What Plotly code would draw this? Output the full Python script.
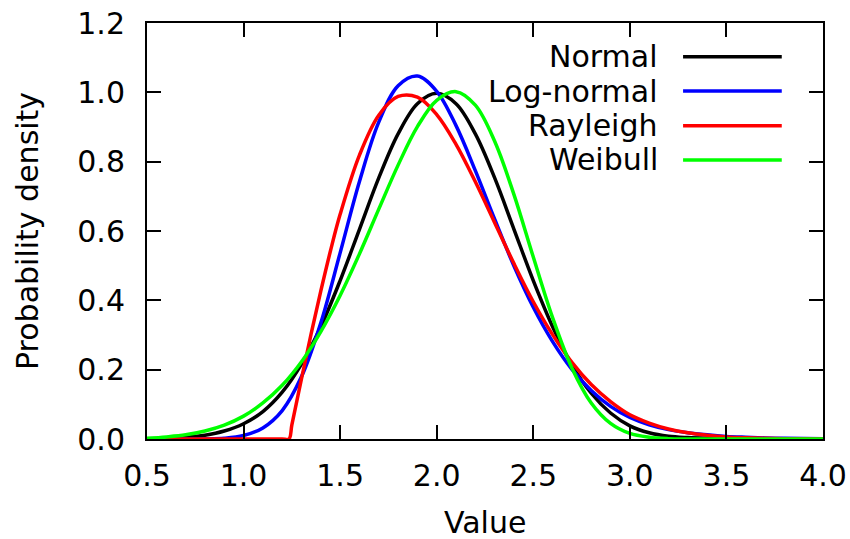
import plotly.graph_objects as go

# x grid shared by three of the series
x_grid = [0.5, 0.6, 0.7, 0.8, 0.9, 1.0, 1.1, 1.2, 1.3, 1.4, 1.5, 1.6, 1.7, 1.8,
          1.9, 2.0, 2.1, 2.2, 2.3, 2.4, 2.5, 2.6, 2.7, 2.8, 2.9, 3.0, 3.1, 3.2,
          3.3, 3.4, 3.5, 3.6, 3.7, 3.8, 3.9, 4.0]

normal_y = [0.001, 0.002, 0.005, 0.011, 0.023, 0.044, 0.079, 0.135, 0.216, 0.324,
            0.457, 0.605, 0.753, 0.880, 0.967, 0.997, 0.967, 0.880, 0.753, 0.605,
            0.457, 0.324, 0.214, 0.132, 0.075, 0.038, 0.018, 0.008, 0.004, 0.002,
            0.001, 0.0003, 0.0001, 0.0, 0.0, 0.0]

lognormal_y = [0.0, 0.0, 0.0, 0.0002, 0.002, 0.010, 0.032, 0.082, 0.180, 0.335,
               0.537, 0.743, 0.914, 1.019, 1.047, 1.003, 0.904, 0.774, 0.634, 0.499,
               0.380, 0.281, 0.201, 0.140, 0.094, 0.062, 0.041, 0.027, 0.018, 0.012,
               0.0075, 0.005, 0.003, 0.002, 0.0012, 0.0008]

weibull_y = [0.002, 0.006, 0.012, 0.023, 0.040, 0.066, 0.104, 0.155, 0.223, 0.310,
             0.414, 0.534, 0.663, 0.790, 0.901, 0.977, 1.002, 0.963, 0.859, 0.705,
             0.525, 0.350, 0.205, 0.104, 0.045, 0.016, 0.005, 0.001, 0.0002, 0.0,
             0.0, 0.0, 0.0, 0.0, 0.0, 0.0]

rayleigh_x = [0.5, 0.8, 1.0, 1.2, 1.235, 1.25, 1.3, 1.35, 1.4, 1.45, 1.5, 1.6, 1.7,
              1.8, 1.9, 2.0, 2.1, 2.2, 2.3, 2.4, 2.5, 2.6, 2.7, 2.8, 2.9, 3.0, 3.1,
              3.2, 3.3, 3.4, 3.5, 3.6, 3.7, 3.8, 3.9, 4.0]
rayleigh_y = [0.0, 0.0, 0.0, 0.0, 0.0, 0.041, 0.174, 0.304, 0.427, 0.543, 0.648,
              0.819, 0.934, 0.988, 0.986, 0.936, 0.850, 0.742, 0.624, 0.506, 0.396,
              0.301, 0.221, 0.157, 0.108, 0.070, 0.046, 0.029, 0.018, 0.011, 0.006,
              0.0035, 0.002, 0.001, 0.0005, 0.0002]

series_names = ["Normal", "Log-normal", "Rayleigh", "Weibull"]
series_colors = ["#000000", "#0000ff", "#ff0000", "#00ff00"]

x_ticks = [0.5, 1.0, 1.5, 2.0, 2.5, 3.0, 3.5, 4.0]
y_ticks = [0.0, 0.2, 0.4, 0.6, 0.8, 1.0, 1.2]

FONT = "DejaVu Sans, Liberation Sans, Arial, sans-serif"
FS = 30
LW = 3.5

fig = go.Figure()
data = [(x_grid, normal_y), (x_grid, lognormal_y), (rayleigh_x, rayleigh_y), (x_grid, weibull_y)]
for (xs, ys), name, col in zip(data, series_names, series_colors):
    fig.add_trace(go.Scatter(x=xs, y=ys, mode="lines", name=name,
                             line=dict(color=col, width=LW, shape="spline", smoothing=1.0),
                             showlegend=False))

# manual legend (text right-aligned, sample line to the right)
leg_y = [0.919, 0.8365, 0.753, 0.6707]
for name, col, yy in zip(series_names, series_colors, leg_y):
    fig.add_annotation(x=0.7589, y=yy, xref="paper", yref="paper", text=name,
                       showarrow=False, xanchor="right", yanchor="middle",
                       font=dict(family=FONT, size=FS, color="black"))
    fig.add_shape(type="line", xref="paper", yref="paper", x0=0.793, x1=0.939,
                  y0=yy, y1=yy, line=dict(color=col, width=LW))

# axis titles
fig.add_annotation(x=0.5, y=0, xref="paper", yref="paper", text="Value",
                   showarrow=False, xanchor="center", yanchor="middle", yshift=-83,
                   font=dict(family=FONT, size=FS, color="black"))
fig.add_annotation(x=0, y=0.5, xref="paper", yref="paper", text="Probability density",
                   showarrow=False, xanchor="center", yanchor="middle", xshift=-120,
                   textangle=-90, font=dict(family=FONT, size=FS, color="black"))

axis_common = dict(showline=True, linecolor="black", linewidth=2, mirror="ticks",
                   ticks="inside", ticklen=14, tickwidth=2, tickcolor="black",
                   showgrid=False, zeroline=False, automargin=False,
                   ticklabeloverflow="allow",
                   tickfont=dict(family=FONT, size=FS, color="black"))

fig.update_xaxes(range=[0.5, 4.0], tickvals=x_ticks, ticktext=[f"{v:.1f}" for v in x_ticks],
                 ticklabelstandoff=9, **axis_common)
fig.update_yaxes(range=[0, 1.2], tickvals=y_ticks, ticktext=[f"{v:.1f}" for v in y_ticks],
                 ticklabelstandoff=14, **axis_common)

fig.update_layout(width=850, height=539, margin=dict(l=147, r=27, t=23, b=100),
                  plot_bgcolor="white", paper_bgcolor="white",
                  font=dict(family=FONT, size=FS, color="black"))

# remove the default 8px page margin so the figure fills the window exactly
fig.write_html("out.html",
               config={"displayModeBar": False, "staticPlot": True},
               post_script="document.body.style.margin='0';document.body.style.overflow='hidden';")
